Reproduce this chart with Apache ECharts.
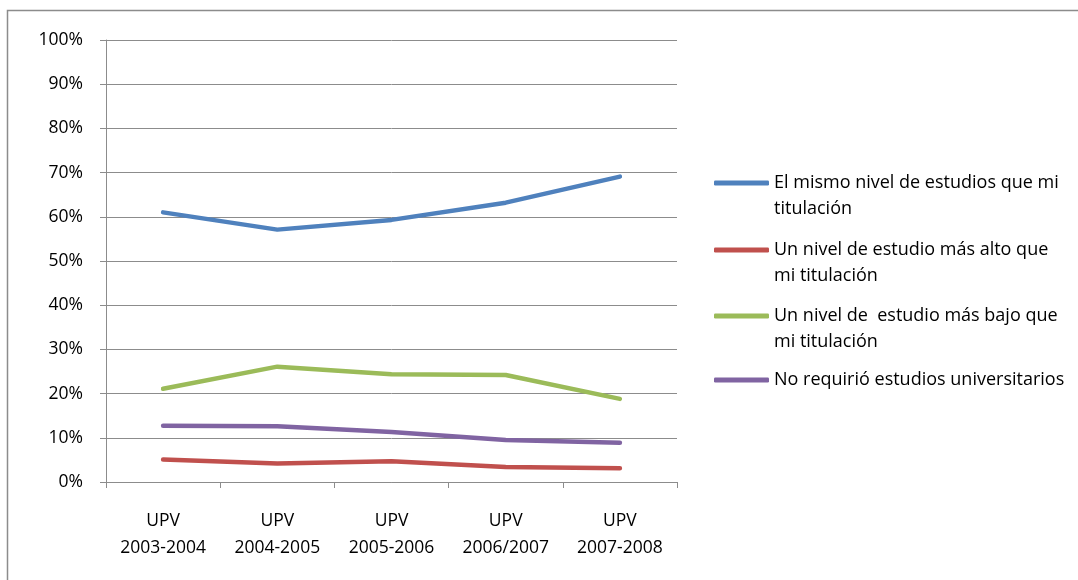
<!DOCTYPE html>
<html>
<head>
<meta charset="utf-8">
<script src="https://cdn.jsdelivr.net/npm/echarts@6/dist/echarts.min.js"></script>
<style>
html,body{margin:0;padding:0;background:#fff;}
#chart{width:1078px;height:580px;}
</style>
</head>
<body>
<div id="chart"></div>
<script>
const categories = ['UPV\n2003-2004', 'UPV\n2004-2005', 'UPV\n2005-2006', 'UPV\n2006/2007', 'UPV\n2007-2008'];
const yTicks = [0, 10, 20, 30, 40, 50, 60, 70, 80, 90, 100];
const seriesNames = [
  'El mismo nivel de estudios que mi\ntitulación',
  'Un nivel de estudio más alto que\nmi titulación',
  'Un nivel de  estudio más bajo que\nmi titulación',
  'No requirió estudios universitarios'
];
const mismoNivel = [61.0, 57.1, 59.3, 63.2, 69.1];
const nivelMasAlto = [5.1, 4.2, 4.7, 3.4, 3.1];
const nivelMasBajo = [21.1, 26.1, 24.4, 24.2, 18.8];
const noRequirio = [12.7, 12.6, 11.3, 9.5, 8.9];
const colors = ['#4F81BD', '#C0504D', '#9BBB59', '#8064A2'];

const FONT = 'Open Sans';
const FS = 17.5;
const LFS = 18;
const LH = 25.5;
const legendFirstLine = [183, 250, 316, 380];
const dataSets = [mismoNivel, nivelMasAlto, nivelMasBajo, noRequirio];

const chart = echarts.init(document.getElementById('chart'), null, {renderer: 'canvas'});

const legends = seriesNames.map((n, i) => {
  const twoLine = n.indexOf('\n') >= 0;
  return {
    data: [n],
    left: 714,
    top: twoLine ? legendFirstLine[i] - LH * 1.5 : legendFirstLine[i] - LH / 2,
    padding: 0,
    icon: 'roundRect',
    itemWidth: 55,
    itemHeight: 5,
    selectedMode: false,
    formatter: twoLine ? (name => ' \n' + name) : (name => name),
    textStyle: {
      fontFamily: FONT, fontSize: LFS, color: '#000', lineHeight: LH
    }
  };
});

chart.setOption({
  animation: false,
  color: colors,
  graphic: [{
    type: 'rect',
    shape: {x: 7.5, y: 10.5, width: 1200, height: 700},
    style: {fill: 'none', stroke: '#8c8c8c', lineWidth: 1.5},
    silent: true
  }],
  grid: {left: 106, right: 401, top: 40, bottom: 98, containLabel: false},
  legend: legends,
  xAxis: {
    type: 'category',
    data: categories,
    boundaryGap: true,
    axisLine: {show: true, lineStyle: {color: '#8c8c8c', width: 1}},
    axisTick: {show: true, inside: false, length: 6, alignWithLabel: false, lineStyle: {color: '#8c8c8c'}},
    axisLabel: {fontFamily: FONT, fontSize: FS, color: '#000', lineHeight: 27, margin: 26, interval: 0},
    splitLine: {show: false}
  },
  yAxis: {
    type: 'value',
    min: yTicks[0],
    max: yTicks[yTicks.length - 1],
    interval: 10,
    axisLine: {show: true, lineStyle: {color: '#8c8c8c', width: 1}},
    axisTick: {show: true, inside: false, length: 6, lineStyle: {color: '#8c8c8c'}},
    axisLabel: {fontFamily: FONT, fontSize: FS, color: '#000', margin: 23, formatter: '{value}%'},
    splitLine: {show: true, lineStyle: {color: '#8c8c8c', width: 1}}
  },
  series: seriesNames.map((n, i) => ({
    name: n,
    type: 'line',
    data: dataSets[i],
    showSymbol: false,
    symbol: 'none',
    smooth: false,
    lineStyle: {width: 4.5, color: colors[i], cap: 'round', join: 'round'},
    itemStyle: {color: colors[i]},
    z: 10 - i
  }))
});
</script>
</body>
</html>
